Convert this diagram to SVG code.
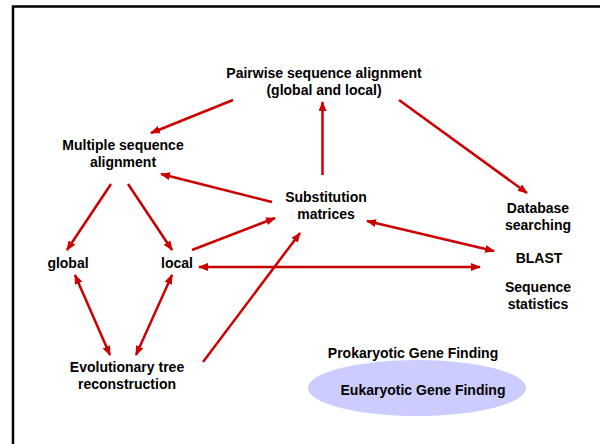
<svg xmlns="http://www.w3.org/2000/svg" width="600" height="444" viewBox="0 0 600 444">
<style>
text{font-family:"Liberation Sans",Arial,sans-serif;font-weight:bold;font-size:14px;fill:#000;text-anchor:middle}
.c line{stroke:#cc0000;stroke-width:2.5;fill:none}
</style>
<defs>
<marker id="ah" markerUnits="userSpaceOnUse" markerWidth="10" markerHeight="8" refX="9" refY="4" orient="auto-start-reverse" viewBox="0 0 10 8">
<path d="M0,0 L10,4 L0,8 z" fill="#cc0000"/>
</marker>
</defs>
<rect width="600" height="444" fill="#fff"/>
<path d="M13,444 V6.5 H600" fill="none" stroke="#000" stroke-width="2.5"/>
<g class="c" id="connectors">
<line x1="233" y1="100" x2="151" y2="133" marker-end="url(#ah)"/>
<line x1="322.5" y1="175" x2="322.5" y2="102" marker-end="url(#ah)"/>
<line x1="399" y1="100" x2="527" y2="193" marker-end="url(#ah)"/>
<line x1="272" y1="202" x2="161" y2="174" marker-end="url(#ah)"/>
<line x1="111" y1="184" x2="67" y2="250" marker-end="url(#ah)"/>
<line x1="128" y1="184" x2="172" y2="250" marker-end="url(#ah)"/>
<line x1="192" y1="250" x2="275" y2="218" marker-end="url(#ah)"/>
<line x1="199" y1="267" x2="480" y2="267" marker-start="url(#ah)" marker-end="url(#ah)"/>
<line x1="367" y1="221" x2="494" y2="251" marker-start="url(#ah)" marker-end="url(#ah)"/>
<line x1="75" y1="275" x2="110" y2="355" marker-start="url(#ah)" marker-end="url(#ah)"/>
<line x1="172" y1="275" x2="136" y2="355" marker-start="url(#ah)" marker-end="url(#ah)"/>
<line x1="203" y1="362" x2="300" y2="233" marker-end="url(#ah)"/>
</g>
<g id="pairwise"><text x="324" y="78">Pairwise sequence alignment</text><text x="324" y="95">(global and local)</text></g>
<g id="multiple"><text x="123" y="150">Multiple sequence</text><text x="123" y="167">alignment</text></g>
<g id="substitution"><text x="326" y="202">Substitution</text><text x="326" y="219">matrices</text></g>
<g id="database"><text x="538" y="213">Database</text><text x="538" y="230">searching</text></g>
<g id="blast"><text x="539" y="263">BLAST</text></g>
<g id="seqstats"><text x="538" y="292">Sequence</text><text x="538" y="309">statistics</text></g>
<g id="global"><text x="68" y="268">global</text></g>
<g id="local"><text x="177" y="268">local</text></g>
<g id="evolution"><text x="127" y="372">Evolutionary tree</text><text x="127" y="389">reconstruction</text></g>
<g id="prokaryotic"><text x="413" y="358">Prokaryotic Gene Finding</text></g>
<g id="eukaryotic"><ellipse cx="417" cy="388" rx="109" ry="28" fill="#ccccff"/><text x="423" y="395">Eukaryotic Gene Finding</text></g>
</svg>
